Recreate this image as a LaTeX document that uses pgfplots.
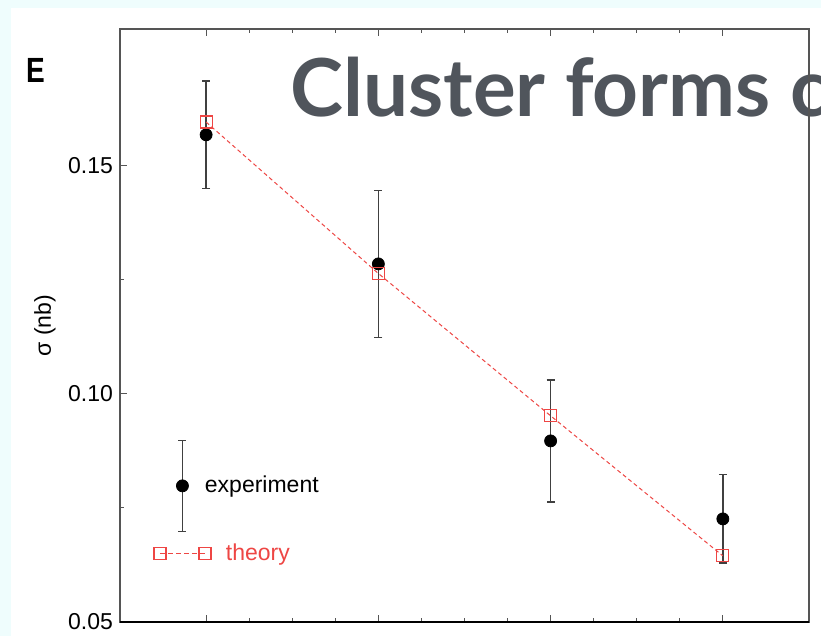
\documentclass[border=0pt]{standalone}
\usepackage{fontspec}
\setmainfont{Liberation Sans}
\newfontfamily\titlefont{Lato}
\usepackage{pgfplots}
\pgfplotsset{compat=1.18}

\definecolor{bgcyan}{RGB}{239,253,253}
\definecolor{titlegray}{RGB}{80,85,92}
\definecolor{theoryred}{RGB}{238,70,68}
\definecolor{framegray}{RGB}{85,85,85}

% legend samples: a point with its error bar, and two squares joined by a dashed line
\pgfplotsset{
  experiment legend/.style={legend image code/.code={
      \path (0pt,0pt) (22.5pt,0pt);
      \begin{scope}[overlay]
        \draw[black!75, line width=0.8pt]
          (11.25pt,-22.75pt) -- (11.25pt,22.75pt)
          (9.25pt,-22.75pt) -- (13.25pt,-22.75pt)
          (9.25pt,22.75pt) -- (13.25pt,22.75pt);
        \draw[black, fill=black] plot[only marks, mark=*, mark size=3pt]
          coordinates {(11.25pt,0pt)};
      \end{scope}
  }},
  theory legend/.style={legend image code/.code={
      \draw[##1, dash pattern=on 2.5pt off 1.5pt] plot coordinates {(0pt,0pt) (22.5pt,0pt)};
  }},
}

% measured cross sections with their uncertainties
\pgfplotstableread{
x   y       e
1   0.1568  0.0118
2   0.1285  0.0161
3   0.0897  0.0134
4   0.0726  0.0097
}\experiment

% calculated cross sections
\pgfplotstableread{
x   y
1   0.1596
2   0.1264
3   0.0952
4   0.0645
}\theory

\begin{document}
\begin{tikzpicture}
\useasboundingbox (0pt,0pt) rectangle (410.5pt,318pt);
\clip (0pt,0pt) rectangle (410.5pt,318pt);
\fill[bgcyan] (0pt,0pt) rectangle (410.5pt,318pt);
\fill[white] (5.5pt,0pt) rectangle (410.5pt,314pt);

% panel letter and slide heading
\node[anchor=base west, inner sep=0pt, font=\bfseries\fontsize{17.5}{20}\selectfont]
  at (13pt,276.5pt) {\scalebox{0.8}[1]{E}};
\node[anchor=base west, inner sep=0pt, text=titlegray,
      font=\titlefont\bfseries\fontsize{40}{48}\selectfont]
  at (145pt,259.5pt) {Cluster forms c};

\begin{axis}[
  at={(60pt,7pt)}, anchor=south west,
  scale only axis, width=344.5pt, height=296.5pt,
  xmin=0.5, xmax=4.5, ymin=0.05, ymax=0.18,
  xtick={1,2,3,4}, xticklabels={,,,}, minor x tick num=3,
  ytick={0.05,0.10,0.15}, minor ytick={0.075,0.125}, ytick pos=left,
  tick align=inside,
  major tick length=3.5pt, minor tick length=2pt,
  tick style={framegray, line width=0.5pt},
  axis line style={framegray, line width=0.7pt},
  yticklabel style={font=\fontsize{11.5}{13}\selectfont, /pgf/number format/.cd,
    fixed, fixed zerofill, precision=2, assume math mode=true},
  ylabel={σ (nb)},
  ylabel style={font=\fontsize{11.5}{13}\selectfont,
    at={(axis description cs:-0.109,0.5)}, anchor=center},
  legend style={draw=none, fill=none, inner sep=0pt, outer sep=0pt,
    nodes={inner sep=0pt}, column sep=7.5pt, row sep=24pt,
    font=\fontsize{11.5}{13}\selectfont,
    at={(axis cs:0.697,0.0820)}, anchor=north west},
  legend cell align=left,
  % the bottom frame line is drawn darker, with ticks crossing it
  after end axis/.code={
    \draw[black, line width=0.9pt] (rel axis cs:0,0) -- (rel axis cs:1,0);
  },
]

\addplot[only marks, mark=*, mark size=3pt, black, experiment legend,
  error bars/.cd, y dir=both, y explicit,
  error bar style={black!75, line width=0.8pt},
  error mark options={black!75, mark size=2pt, line width=0.8pt, rotate=90}]
  table[x=x, y=y, y error=e] {\experiment};
\addlegendentry{\hspace*{-10.5pt}experiment}

\addplot[theoryred, line width=0.5pt, dash pattern=on 2pt off 1.5pt,
  mark=square, mark size=3pt, mark options={solid, line width=0.6pt},
  theory legend]
  table[x=x, y=y] {\theory};
\addlegendentry{\textcolor{theoryred}{theory}}
\end{axis}
\end{tikzpicture}
\end{document}
